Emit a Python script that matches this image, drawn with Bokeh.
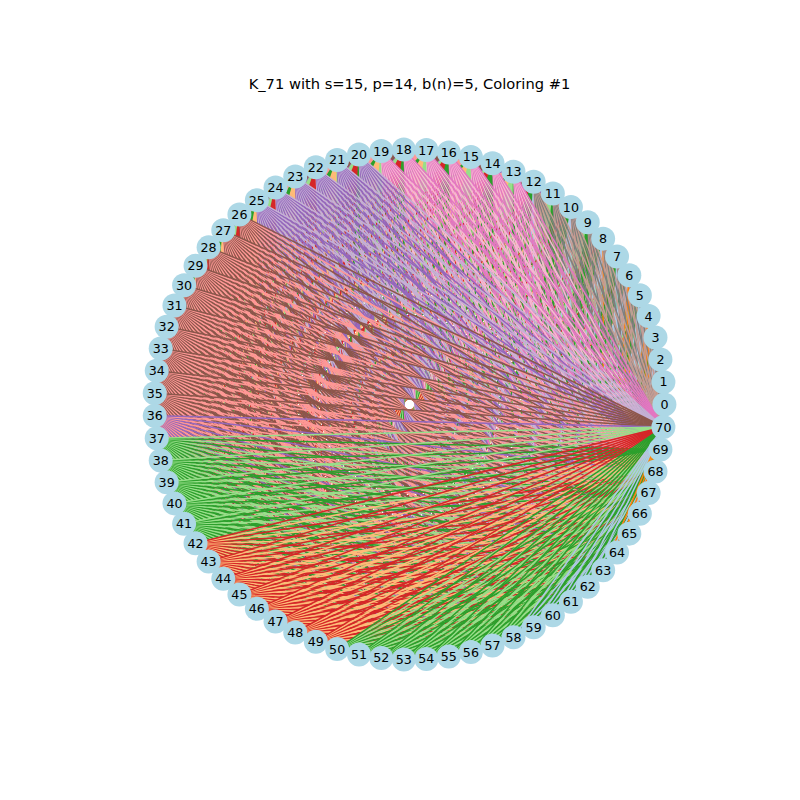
import numpy as np
from bokeh.plotting import figure
from bokeh.embed import file_html
from bokeh.resources import INLINE
from bokeh.core.properties import value

n_nodes = 71
title = "K_71 with s=15, p=14, b(n)=5, Coloring #1"

# color bands along the circle: first node of band, main color, stripe color
band_start = [0, 5, 13, 20, 26, 36, 37, 42, 50, 58, 63]
band_main = ["#7f7f7f", "#c49c94", "#e377c2", "#c5b0d5", "#8c564b", "#9467bd",
             "#98df8a", "#d62728", "#2ca02c", "#aec7e8", "#ff7f0e"]
band_alt = ["#c49c94", "#7f7f7f", "#f7b6d2", "#9467bd", "#ff9896", "#ff9896",
            "#2ca02c", "#ffbb78", "#98df8a", "#2ca02c", "#aec7e8"]

ang = 2 * np.pi * np.arange(n_nodes) / n_nodes
nx = np.cos(ang)
ny = np.sin(ang)


def band_of(k):
    b = 0
    for i, s in enumerate(band_start):
        if k >= s:
            b = i
    return b


xs, ys, cols = [], [], []
for i in range(n_nodes):
    for j in range(i + 1, n_nodes):
        far, other = (i, j) if min(i, n_nodes - i) > min(j, n_nodes - j) else (j, i)
        b = band_of(far)
        cols.append(band_main[b] if other % 2 == 0 else band_alt[b])
        xs.append([nx[i], nx[j]])
        ys.append([ny[i], ny[j]])

p = figure(width=784, height=784, output_backend="svg", toolbar_location=None,
           x_range=(-1.604, 1.471), y_range=(-1.490, 1.584), min_border=0)
p.axis.visible = False
p.grid.visible = False
p.outline_line_color = None

p.multi_line(xs, ys, line_color=cols, line_width=1.5)
p.scatter([0], [0], size=8, color="white")
p.scatter(nx, ny, size=24, color="#add8e6", line_color=None)
p.text(nx, ny, text=[str(k) for k in range(n_nodes)], text_align="center",
       text_baseline="middle", text_font_size="9.5pt", text_font=value("DejaVu Sans"))
p.text([0], [1.259], text=[title], text_align="center", text_baseline="middle",
       text_font_size="11pt", text_font=value("DejaVu Sans"))

open("out.html", "w").write(file_html(p, INLINE))
